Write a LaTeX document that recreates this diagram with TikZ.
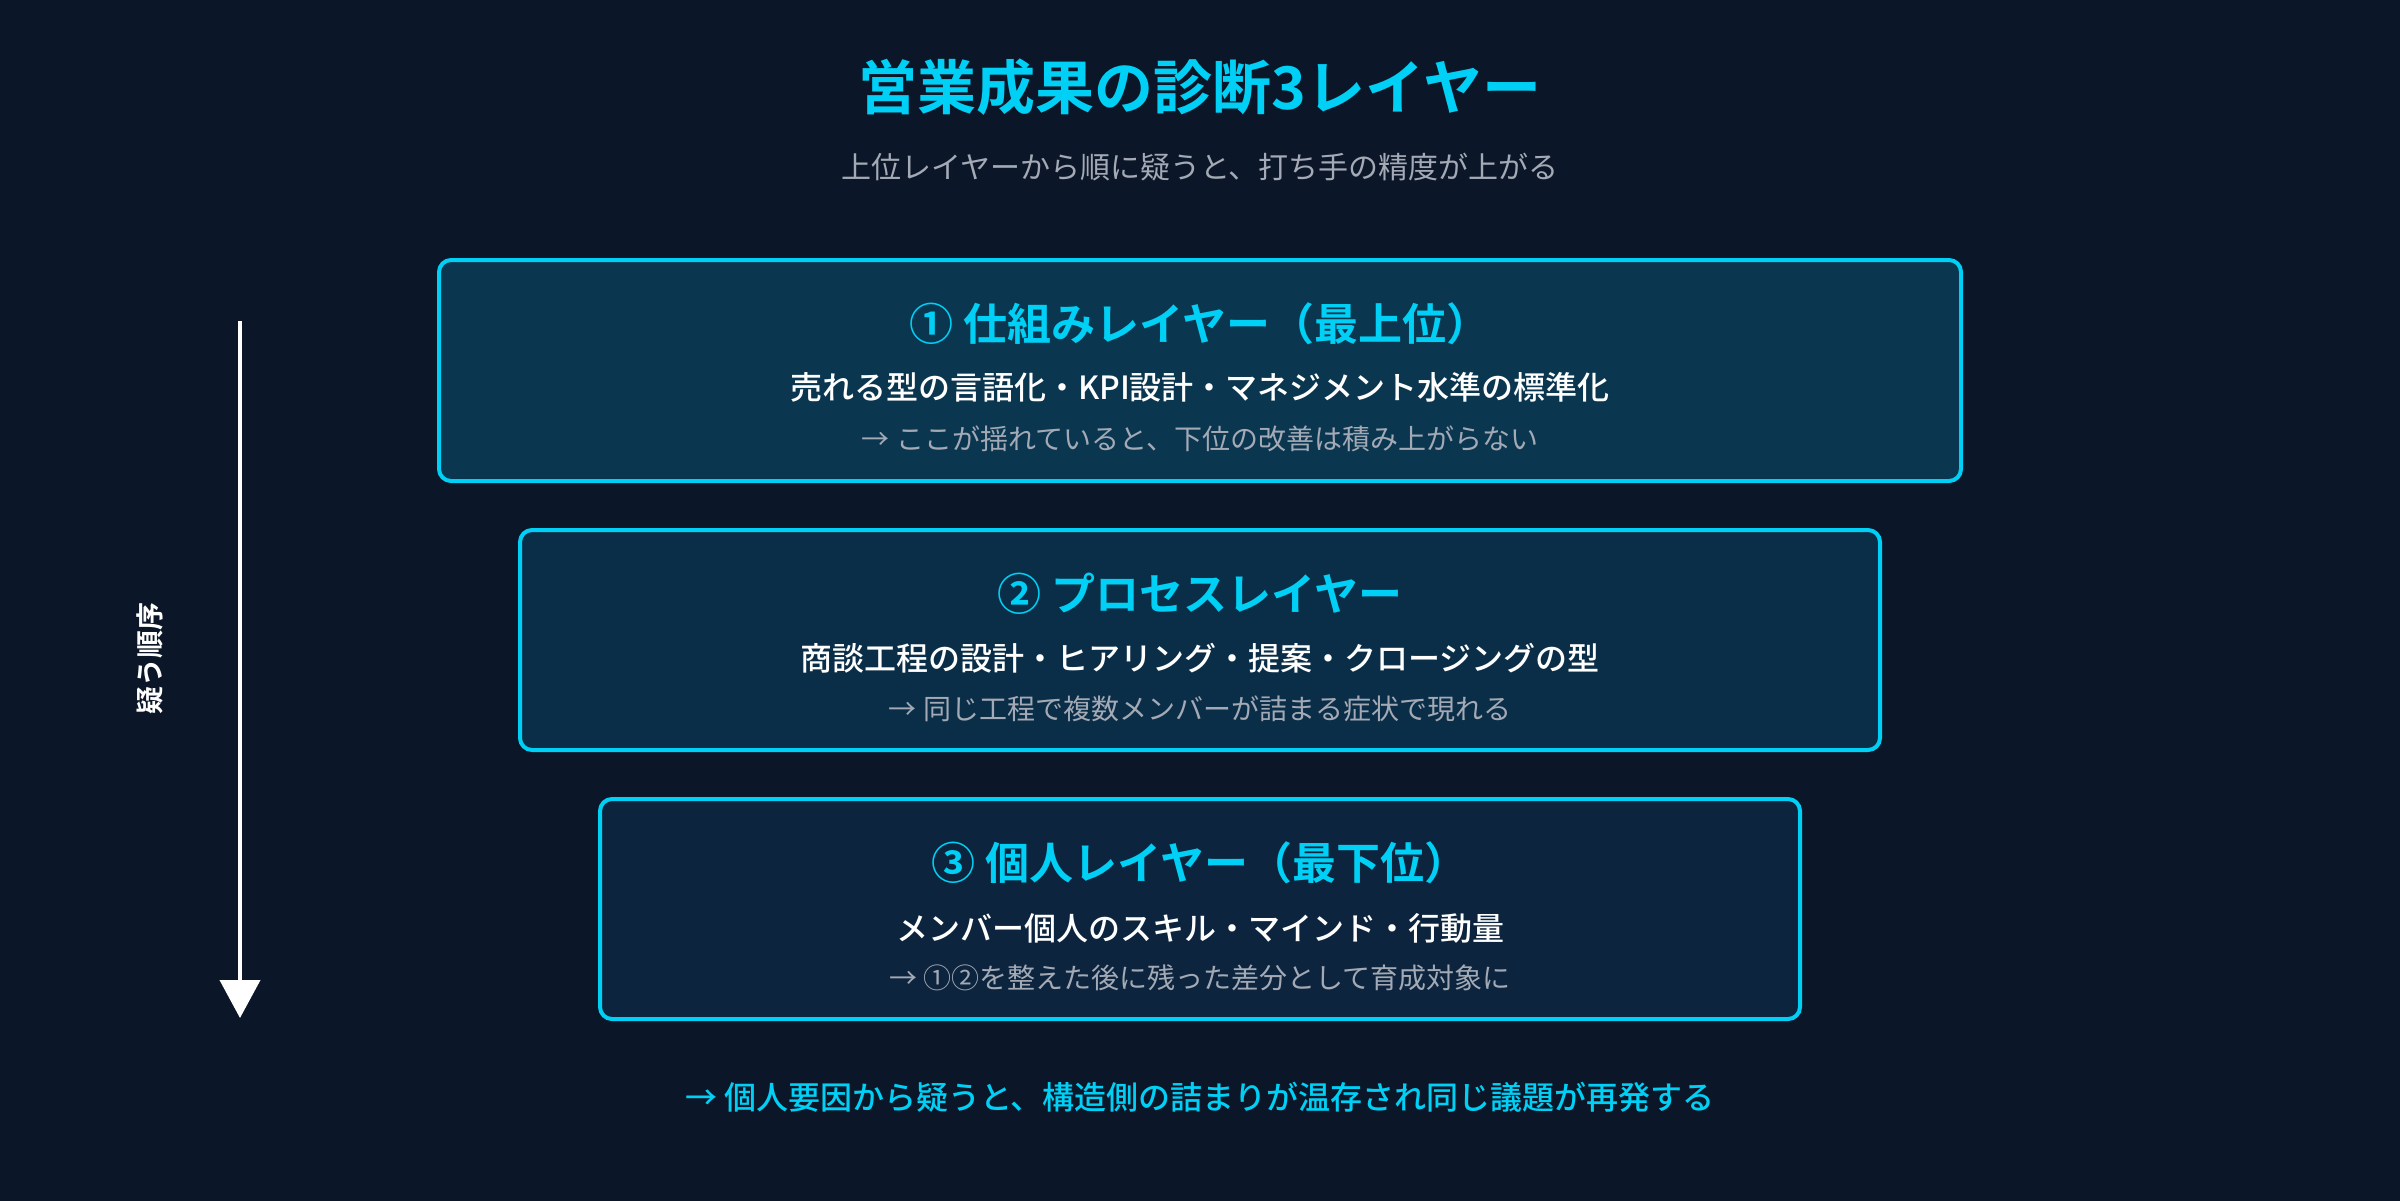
\documentclass[tikz,border=0pt]{standalone}
\usepackage{fontspec}
\setmainfont{Noto Sans CJK JP}[BoldFont={Noto Sans CJK JP Bold}]
\newfontfamily\medfont{Noto Sans CJK JP Medium}
\usetikzlibrary{arrows.meta}
\definecolor{bg}{HTML}{0B1628}
\definecolor{cyanA}{HTML}{00D0F5}
\definecolor{fillA}{HTML}{0A3650}
\definecolor{fillB}{HTML}{0B2E48}
\definecolor{fillC}{HTML}{0C243D}
\definecolor{grayT}{HTML}{A3AAB5}
\tikzset{
  layerbox/.style={draw=cyanA, line width=4pt, rounded corners=12pt},
  headtxt/.style={text=cyanA, font=\bfseries\fontsize{44}{52}\selectfont, anchor=center},
  bodytxt/.style={text=white, font=\medfont\fontsize{32}{38}\selectfont, anchor=center},
  notetxt/.style={text=grayT, font=\fontsize{28}{34}\selectfont, anchor=center},
}
\begin{document}
\begin{tikzpicture}[x=1pt,y=-1pt]
\useasboundingbox (0,0) rectangle (2400,1200);
\fill[bg] (-20,-20) rectangle (2420,1220);

\node[text=cyanA, font=\bfseries\fontsize{59}{70}\selectfont] (title) at (1200,87) {営業成果の診断3レイヤー};
\node[text=grayT, font=\fontsize{30}{36}\selectfont] (sub) at (1200,167) {上位レイヤーから順に疑うと、打ち手の精度が上がる};

\filldraw[layerbox, fill=fillA] (439,260) rectangle (1961,481);
\node[headtxt] (h1) at (1200,324) {① 仕組みレイヤー（最上位）};
\node[bodytxt] (b1) at (1200,387) {売れる型の言語化・KPI設計・マネジメント水準の標準化};
\node[notetxt] (n1) at (1200,439) {→ ここが揺れていると、下位の改善は積み上がらない};

\filldraw[layerbox, fill=fillB] (520,530) rectangle (1880,750);
\node[headtxt] (h2) at (1200,594) {② プロセスレイヤー};
\node[bodytxt] (b2) at (1200,658) {商談工程の設計・ヒアリング・提案・クロージングの型};
\node[notetxt] (n2) at (1200,709) {→ 同じ工程で複数メンバーが詰まる症状で現れる};

\filldraw[layerbox, fill=fillC] (600,799) rectangle (1800,1019);
\node[headtxt] (h3) at (1200,863) {③ 個人レイヤー（最下位）};
\node[bodytxt] (b3) at (1200,928) {メンバー個人のスキル・マインド・行動量};
\node[notetxt] (n3) at (1200,978) {→ ①②を整えた後に残った差分として育成対象に};

\coordinate (aS) at (240,321);
\coordinate (aE) at (240,1018);
\draw[white, line width=4pt, -{Triangle[width=40pt,length=38pt]}] (aS) -- (aE);
\node[text=white, font=\bfseries\fontsize{28}{34}\selectfont, rotate=90] (lbl) at (150,658) {疑う順序};

\node[text=cyanA, font=\medfont\fontsize{32}{38}\selectfont] (bottom) at (1200,1097) {→ 個人要因から疑うと、構造側の詰まりが温存され同じ議題が再発する};
\end{tikzpicture}
\end{document}
